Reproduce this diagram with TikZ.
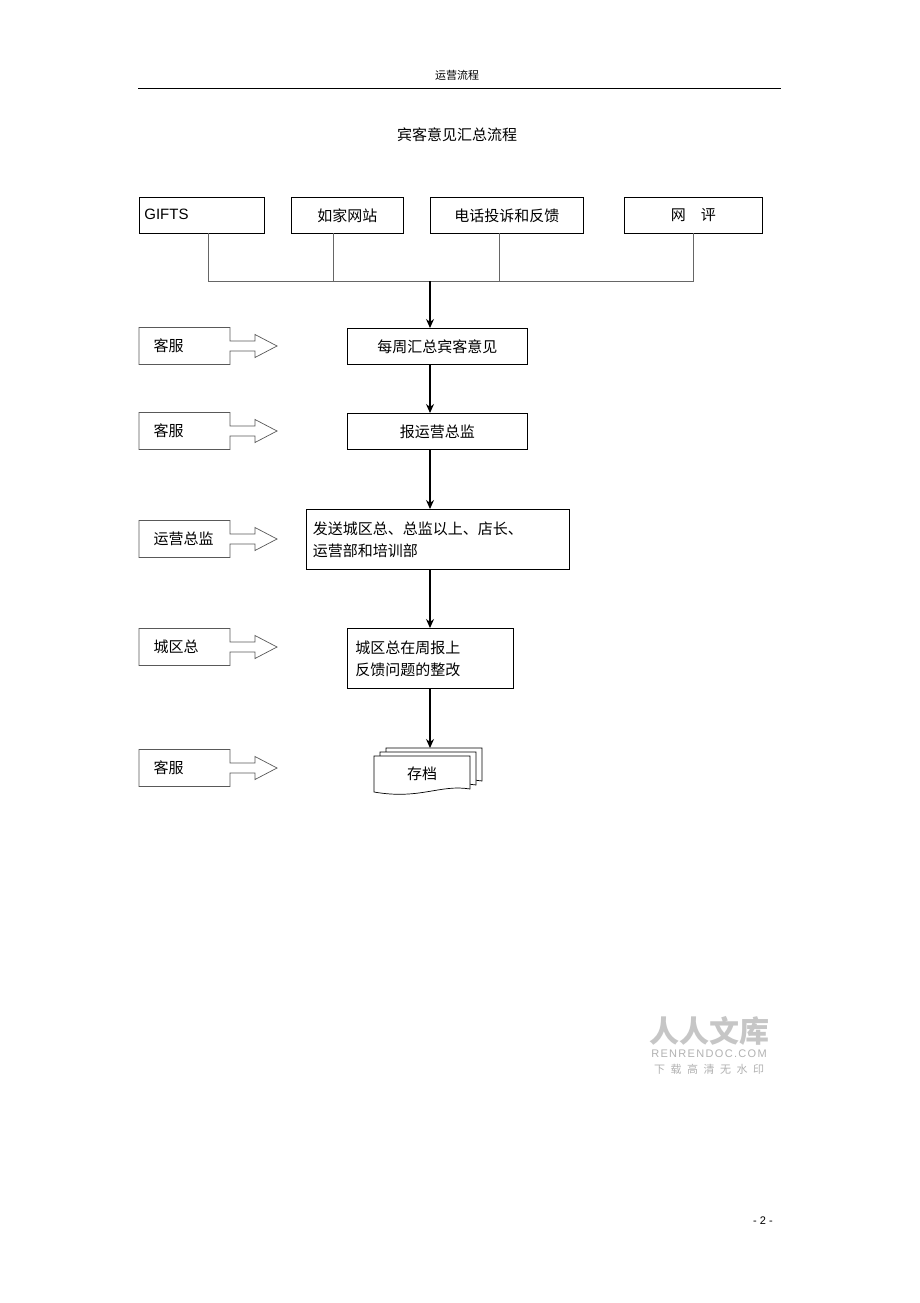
\documentclass[tikz,border=0pt]{standalone}
\usepackage{fontspec}
\usetikzlibrary{arrows.meta}
\setmainfont{Liberation Sans}
\newfontfamily\cjk{Noto Sans CJK SC}
\begin{document}
\begin{tikzpicture}[x=1pt,y=-1pt,
  box/.style={draw,line width=0.7pt,inner sep=0pt,font=\cjk\fontsize{15}{22}\selectfont},
  conn/.style={line width=0.7pt,gray!80!black},
  arr/.style={line width=1.2pt,-{Stealth[length=9pt,width=8pt]}}]
\useasboundingbox[fill=white] (0,0) rectangle (920,1303);
\node[font=\cjk\fontsize{11}{13}\selectfont] (hdr) at (457,75) {运营流程};
\draw[line width=0.8pt] (138,88) -- (781,88);
\node[font=\cjk\fontsize{15}{18}\selectfont] (title) at (457,135) {宾客意见汇总流程};
% top sources
\node[box,minimum width=125,minimum height=36,anchor=north west,font=\fontsize{15}{18}\selectfont,text width=115,align=left] (g) at (139,197) {GIFTS\vphantom{g}};
\node[box,minimum width=112,minimum height=36,anchor=north west] (r) at (291,197) {如家网站};
\node[box,minimum width=153,minimum height=36,anchor=north west] (p) at (430,197) {电话投诉和反馈};
\node[box,minimum width=138,minimum height=36,anchor=north west] (w) at (624,197) {网\quad 评};
\draw[conn] (208,233) -- (208,281) -- (693,281) -- (693,233);
\draw[conn] (333,233) -- (333,281);
\draw[conn] (499,233) -- (499,281);
% main chain
\node[box,minimum width=180,minimum height=36,anchor=north west] (b1) at (347,328) {每周汇总宾客意见};
\node[box,minimum width=180,minimum height=36,anchor=north west] (b2) at (347,413) {报运营总监};
\node[box,minimum width=263,minimum height=60,anchor=north west,text width=250,align=left] (b3) at (306,509) {发送城区总、总监以上、店长、\\运营部和培训部};
\node[box,minimum width=166,minimum height=60,anchor=north west,text width=150,align=left] (b4) at (347,628) {城区总在周报上\\反馈问题的整改};
% archive
\foreach \dx/\dy in {12/-8,6/-4}{
  \draw[line width=0.7pt,fill=white,shift={(\dx,\dy)}] (374,756) -- (470,756) -- (470,789) .. controls (440,784) and (420,800) .. (374,792) -- cycle;}
\draw[line width=0.7pt,fill=white] (374,756) -- (470,756) -- (470,789) .. controls (440,784) and (420,800) .. (374,792) -- cycle;
\node[font=\cjk\fontsize{15}{18}\selectfont] (b5) at (422,774) {存档};
\coordinate (j) at (430,281);
\coordinate (b5t) at (430,748);
\draw[arr] (j) -- (j |- b1.north);
\draw[arr] (j |- b1.south) -- (j |- b2.north);
\draw[arr] (j |- b2.south) -- (j |- b3.north);
\draw[arr] (j |- b3.south) -- (j |- b4.north);
\draw[arr] (j |- b4.south) -- (b5t);
% left role arrows
\foreach \y/\t/\n in {346/客服/l1,431/客服/l2,539/运营总监/l3,647/城区总/l4,768/客服/l5}{
  \draw[line width=0.7pt,gray!70!black] (139,\y-18.5) -- (230,\y-18.5) -- (230,\y-5) -- (255,\y-5) -- (255,\y-11.5) -- (277,\y) -- (255,\y+11.5) -- (255,\y+5) -- (230,\y+5) -- (230,\y+18.5) -- (139,\y+18.5) -- cycle;
  \node[font=\cjk\fontsize{15}{18}\selectfont,anchor=west] (\n) at (150,\y) {\t};
}
% watermark
\node[font=\cjk\bfseries\fontsize{30}{32}\selectfont,text=gray!45] (wm1) at (709,1031) {人人文库};
\node[font=\fontsize{11}{12}\selectfont\addfontfeature{LetterSpace=12},text=gray!60] (wm2) at (709,1054) {RENRENDOC.COM};
\node[font=\cjk\fontsize{11}{12}\selectfont,text=gray!60] (wm3) at (709,1069) {下\enspace 载\enspace 高\enspace 清\enspace 无\enspace 水\enspace 印};
\node[font=\fontsize{11}{13}\selectfont] (pg) at (763,1221) {- 2 -};
\end{tikzpicture}
\end{document}
